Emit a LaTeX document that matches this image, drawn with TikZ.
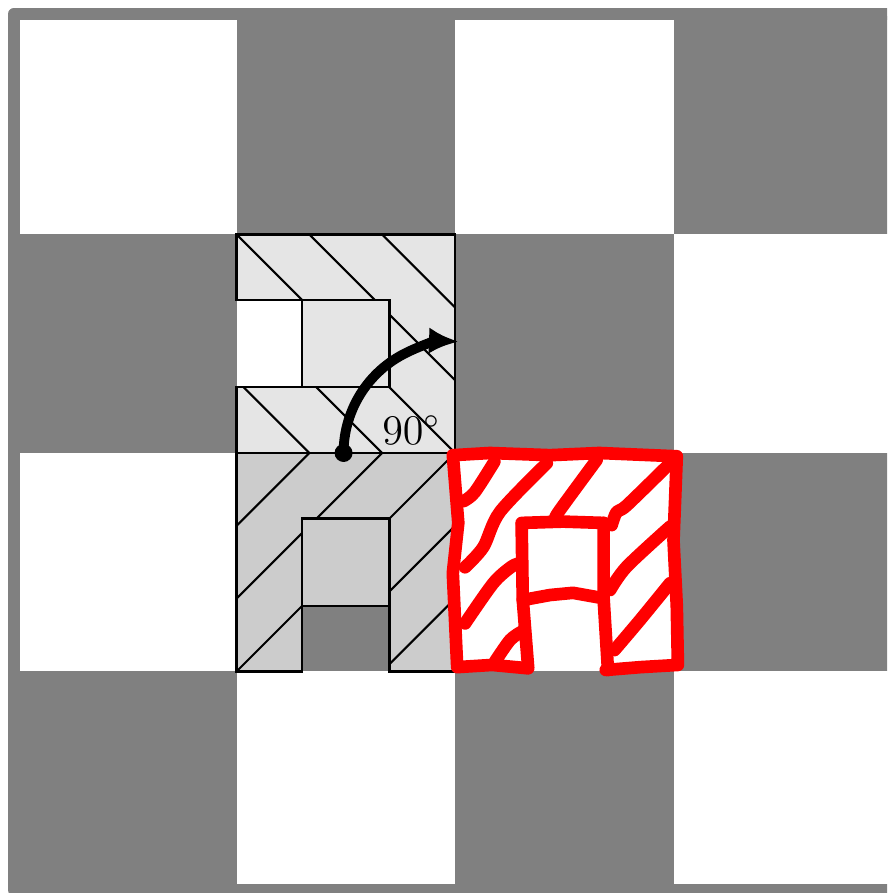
\documentclass[tikz,border=0pt]{standalone}
\usetikzlibrary{arrows.meta}
\begin{document}
\begin{tikzpicture}[x=2.185cm, y=2.185cm, line width=0.6pt, >={Latex[length=8.5pt,width=7.5pt]},
  tileedge/.style={draw=black, line width=0.6pt},
  hatch/.style={black, line width=0.6pt},
  redink/.style={red, line width=3.6pt, line cap=round, line join=round}]
  \useasboundingbox (-0.0824,-0.0137) rectangle (3.9771,4.0732);
  \clip (-0.0824,-0.0137) rectangle (3.9771,4.0732);
  % tablero
  \fill[white] (0,0) rectangle (4,4);
  \foreach \i/\j in {0/0,0/2,1/1,1/3,2/0,2/2,3/1,3/3}
    \fill[gray] (\i,\j) rectangle ++(1,1);
  % marco
  \draw[gray, line width=0.12cm, line join=round] (-0.0183,0) rectangle (4.03,4.0092);
  % pieza de arriba (hueco a la izquierda)
  \fill[gray!20] (1,3) -- (2,3) -- (2,2) -- (1,2) -- (1,2.3) -- (1.3,2.3) -- (1.3,2.7) -- (1,2.7) -- cycle;
  \begin{scope}
    \clip (1,3) -- (2,3) -- (2,2) -- (1,2) -- (1,2.3) -- (1.3,2.3) -- (1.3,2.7) -- (1,2.7) -- cycle;
    \foreach \k in {-2,...,2} { \draw[hatch] ({0.5+\k/3},3.5) -- ({2.5+\k/3},1.5); }
  \end{scope}
  \draw[tileedge] (1,2.7) -- (1,3) -- (2,3) -- (2,2) -- (1,2) -- (1,2.3) -- (1.3,2.3) -- (1.3,2.7) -- cycle;
  \filldraw[fill=gray!20, draw=black] (1.3,2.3) rectangle (1.7,2.7);
  % pieza de abajo (hueco abajo)
  \fill[gray!40] (1,2) -- (2,2) -- (2,1) -- (1.7,1) -- (1.7,1.3) -- (1.3,1.3) -- (1.3,1) -- (1,1) -- cycle;
  \begin{scope}
    \clip (1,2) -- (2,2) -- (2,1) -- (1.7,1) -- (1.7,1.3) -- (1.3,1.3) -- (1.3,1) -- (1,1) -- cycle;
    \foreach \k in {-2,...,2} { \draw[hatch] ({0.5+\k/3},0.5) -- ({2.5+\k/3},2.5); }
  \end{scope}
  \draw[tileedge] (1,2) -- (2,2) -- (2,1) -- (1.7,1) -- (1.7,1.3) -- (1.3,1.3) -- (1.3,1) -- (1,1) -- cycle;
  \filldraw[fill=gray!40, draw=black] (1.3,1.3) rectangle (1.7,1.7);
  % giro de 90 grados
  \coordinate (pivot) at (2,2);
  \coordinate (start) at (1.49,2);
  \fill (start) circle[radius=0.09cm];
  \draw[->, line width=2.8pt] (start) arc[start angle=180, end angle=88, radius=0.51];
  \node[font=\large] (ang) at (1.80,2.105) {$90^\circ$};
  % dibujo a mano en rojo
  \begin{scope}[shift={(2,1)}]
    \draw[redink] (0.33,0.015) -- (0.17,0.03) -- (0.01,0.02) -- (-0.01,0.45) -- (0.015,0.68)
      -- (-0.01,0.99) -- (0.16,1.0) -- (0.435,0.99) -- (0.66,1.0) -- (1.015,0.985)
      -- (1.0,0.6) -- (1.015,0.3) -- (1.02,0.03) -- (0.85,0.02) -- (0.69,0.007);
    \draw[redink] (0.305,0.67) -- (0.31,0.33) -- (0.335,0.015);
    \draw[redink] (0.68,0.68) -- (0.68,0.335) -- (0.70,0.007);
    \draw[redink] (0.305,0.68) -- (0.494,0.686) -- (0.68,0.68);
    \draw[redink] (0.31,0.327) -- (0.435,0.35) -- (0.54,0.36) -- (0.68,0.335);
    % rayado
    \draw[redink] plot[smooth] coordinates {(0.04,0.78) (0.09,0.82) (0.18,0.96)};
    \draw[redink] plot[smooth] coordinates {(0.046,0.477) (0.13,0.57) (0.206,0.731) (0.42,0.953)};
    \draw[redink] plot[smooth] coordinates {(0.046,0.22) (0.175,0.404) (0.259,0.48) (0.297,0.495)};
    \draw[redink] plot[smooth] coordinates {(0.183,0.045) (0.252,0.144) (0.305,0.182)};
    \draw[redink] plot[smooth] coordinates {(0.458,0.70) (0.48,0.739) (0.648,0.968)};
    \draw[redink] plot[smooth] coordinates {(0.717,0.67) (0.74,0.73) (0.786,0.76) (0.984,0.953)};
    \draw[redink] plot[smooth] coordinates {(0.71,0.373) (0.786,0.48) (0.984,0.663)};
    \draw[redink] plot[smooth] coordinates {(0.73,0.098) (0.847,0.236) (0.984,0.404)};
  \end{scope}
\end{tikzpicture}
\end{document}
